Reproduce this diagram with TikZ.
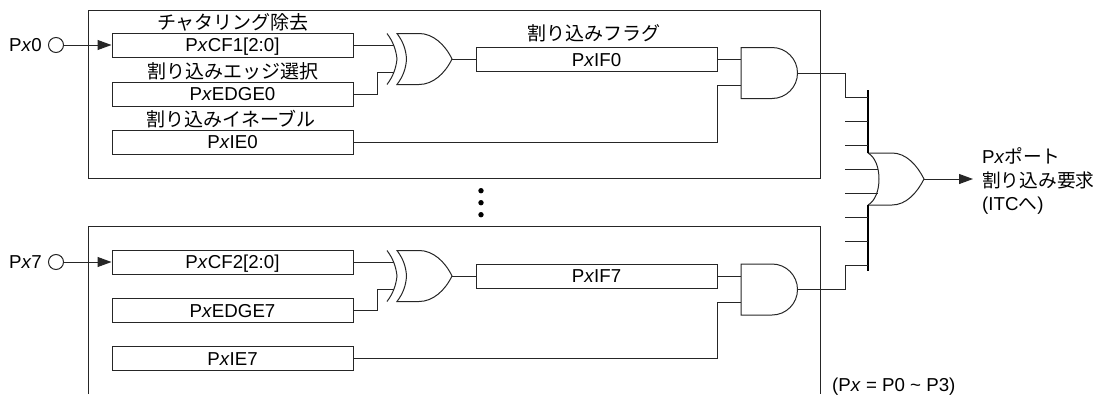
\documentclass[tikz,border=0pt]{standalone}
\usepackage{fontspec}
\setmainfont{Liberation Sans}
\newfontfamily\cjk{Noto Sans CJK JP}
\usepackage{tikz}
\usetikzlibrary{positioning,arrows.meta,calc}
\newcommand{\Px}{P\textit{x}}
\begin{document}
\begin{tikzpicture}[
    x=1pt, y=-1pt,
    font=\fontsize{18.7}{21}\selectfont,
    wire/.style={line width=1pt, draw=black!85},
    arrow/.style={wire, -{Triangle[length=14pt,width=10pt]}},
    reg/.style={draw=black!85, line width=1pt, minimum width=241pt, minimum height=24pt, inner sep=0pt,
        text height=13.4pt, text depth=0pt},
    flag/.style={reg},
    caption/.style={inner sep=0pt, font=\fontsize{19}{21}\selectfont\cjk},
    label/.style={inner sep=0pt, anchor=west, text height=13.4pt, text depth=0pt},
    pad/.style={circle, draw=black!85, line width=1pt, minimum size=15pt, inner sep=0pt},
    frame/.style={line width=1pt, draw=black!85},
    bus/.style={line width=2pt, draw=black},
    xorgate/.pic={
        \draw[wire] (-10,0) .. controls (-4,8) and (-1,16) .. (0,25.5) .. controls (-1,35) and (-4,43) .. (-10,51);
        \draw[wire] (0,0) .. controls (6,8) and (9,16) .. (9.5,25.5) .. controls (9,35) and (6,43) .. (0,51)
            -- (22,51) .. controls (36,51) and (48,40) .. (55,25.5)
            .. controls (48,11) and (36,0) .. (22,0) -- cycle;
        \coordinate (-a) at (-3,12);
        \coordinate (-b) at (-3,39);
        \coordinate (-o) at (55,25.5);
    },
    andgate/.pic={
        \draw[wire] (0,0) -- (31,0) arc[start angle=-90, end angle=90, radius=25.5] -- (0,51) -- cycle;
        \coordinate (-a) at (0,12);
        \coordinate (-b) at (0,38);
        \coordinate (-o) at (56.5,25.5);
    },
    orgate/.pic={
        \draw[wire] (0,0) .. controls (7,4) and (11,14) .. (11,26) .. controls (11,38) and (7,48) .. (0,52);
        \draw[wire] (0,0) -- (24,0) .. controls (38,0) and (49,12) .. (56,26)
            .. controls (49,40) and (38,52) .. (24,52) -- (0,52);
        \coordinate (-a) at (10,16);
        \coordinate (-b) at (10,40);
        \coordinate (-o) at (56,26);
    }
]
\useasboundingbox (0,0) rectangle (1098,394);
% frames
\draw[frame] (88,10) rectangle (820,178);
\draw[frame] (88,394) -- (88,226) -- (820,226) -- (820,394);
% upper block
\node[pad] (pad0) at (56,45) {};
\node[label, left=6pt of pad0] (pin0) {\Px0};
\node[reg] (cf0) at (232.5,45) {\Px CF1[2:0]};
\node[reg] (edge0) at (232.5,94) {\Px EDGE0};
\node[reg] (ie0) at (232.5,142) {\Px IE0};
\node[flag] (if0) at (596.5,59.5) {\Px IF0};
\node[caption] (capcf) at (233,22) {チャタリング除去};
\node[caption] (capedge) at (233,71.5) {割り込みエッジ選択};
\node[caption] (capie) at (231,119) {割り込みイネーブル};
\node[caption] (capif) at (593.5,33) {割り込みフラグ};
\pic (xor0) at (397,33.5) {xorgate};
\pic (and0) at (741,47.5) {andgate};
% lower block
\node[pad] (pad7) at (56,262) {};
\node[label, left=6pt of pad7] (pin7) {\Px7};
\node[reg] (cf7) at (232.5,262) {\Px CF2[2:0]};
\node[reg] (edge7) at (232.5,310.5) {\Px EDGE7};
\node[reg] (ie7) at (232.5,358.5) {\Px IE7};
\node[flag] (if7) at (596.5,276) {\Px IF7};
\pic (xor7) at (397,250.5) {xorgate};
\pic (and7) at (741,264) {andgate};
% dots
\foreach \dy in {190.7,202.7,214.7}
    \fill (481,\dy) circle (2.7pt);
% combining OR gate
\pic (orp) at (868,153) {orgate};
\coordinate (busa) at (868,90);
\coordinate (busb) at (868,153);
\coordinate (busc) at (868,205);
\coordinate (busd) at (868,271);
\draw[bus] (busa) -- (busb);
\draw[bus] (busc) -- (busd);
\foreach \sy in {121,145,217,241}
    \draw[wire] (845,\sy) -- (868,\sy);
\draw[wire] (845,169) -- (orp-a);
\draw[wire] (845,193) -- (orp-b);
\coordinate (stub0) at (868,97);
\coordinate (stub7) at (868,265);
% wires
\draw[arrow] (pad0) -- (cf0);
\draw[arrow] (pad7) -- (cf7);
\draw[wire] (cf0.east |- xor0-a) -- (xor0-a);
\draw[wire] (edge0) -- ++(145,0) |- (xor0-b);
\draw[wire] (cf7.east |- xor7-a) -- (xor7-a);
\draw[wire] (edge7) -- ++(145,0) |- (xor7-b);
\draw[wire] (xor0-o) -- (if0.west |- xor0-o);
\draw[wire] (xor7-o) -- (if7.west |- xor7-o);
\draw[wire] (if0.east |- and0-a) -- (and0-a);
\draw[wire] (if7.east |- and7-a) -- (and7-a);
\draw[wire] (ie0) -| (if0.east |- and0-b) -- (and0-b);
\draw[wire] (ie7) -| (if7.east |- and7-b) -- (and7-b);
\draw[wire] (and0-o) -| (845,97) -- (stub0);
\draw[wire] (and7-o) -| (845,265) -- (stub7);
% output
\coordinate (outp) at (973,179);
\draw[arrow] (orp-o) -- (outp);
\node[label] (outa) at (982,157) {\Px{\cjk ポート}};
\node[label] (outb) at (982,180.5) {\cjk 割り込み要求};
\node[label] (outc) at (982,204) {(ITC{\cjk へ})};
\node[label] (note) at (832,385) {(\Px\ = P0 \textasciitilde\ P3)};
\end{tikzpicture}
\end{document}
